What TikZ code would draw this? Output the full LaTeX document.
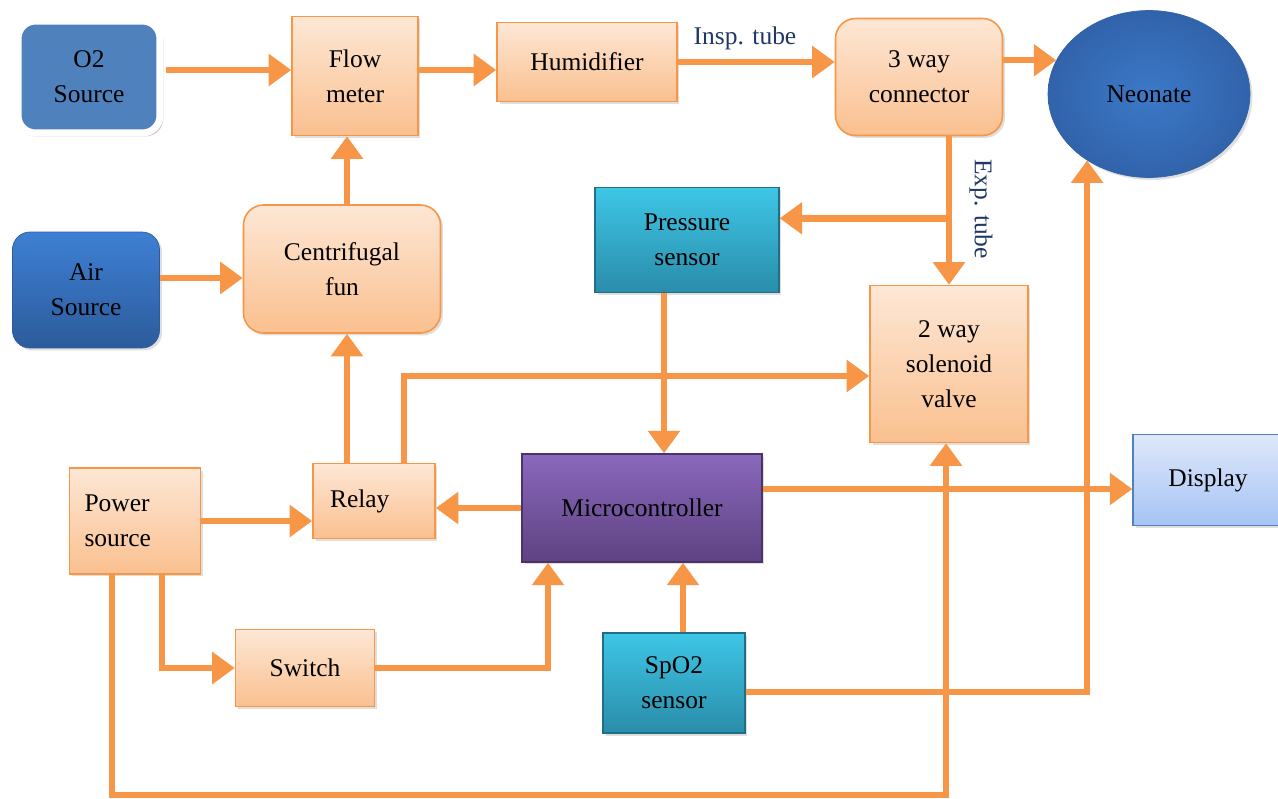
\documentclass[tikz,border=0pt]{standalone}
\usepackage{fontspec}
\setmainfont{Liberation Serif}
\usetikzlibrary{shapes.geometric,arrows.meta,calc,shadows}

\definecolor{wireorange}{HTML}{F79646}
\definecolor{peachtop}{HTML}{FDE7D5}
\definecolor{peachbot}{HTML}{FAC08F}
\definecolor{tealtop}{HTML}{3EC6E6}
\definecolor{tealbot}{HTML}{2A8CAA}
\definecolor{tealedge}{HTML}{216E86}
\definecolor{purpletop}{HTML}{8A68BC}
\definecolor{purplebot}{HTML}{5E4282}
\definecolor{purpleedge}{HTML}{4A3368}
\definecolor{otwoblue}{HTML}{4F81BD}
\definecolor{airtop}{HTML}{3E80D4}
\definecolor{airbot}{HTML}{2C5B9B}
\definecolor{neoin}{HTML}{3C79C8}
\definecolor{neoout}{HTML}{3163AA}
\definecolor{disptop}{HTML}{DEE8FA}
\definecolor{dispbot}{HTML}{A6C3F5}
\definecolor{tubetext}{HTML}{1F3864}

\tikzset{
  txt/.style={font=\fontsize{14.5}{20}\selectfont, align=center},
  shade/.style={drop shadow={opacity=0.25, shadow xshift=0.05cm, shadow yshift=-0.05cm}},
  block/.style={txt, shade, draw=wireorange, line width=0.9pt, top color=peachtop, bottom color=peachbot},
  rblock/.style={block, rounded corners=0.4cm},
  sensor/.style={txt, shade, draw=tealedge, line width=0.8pt, top color=tealtop, bottom color=tealbot},
  source/.style={txt, rounded corners=0.35cm},
  flow/.style={draw=wireorange, line width=0.13cm, -{Triangle[length=0.45cm,width=0.62cm]}},
  wire/.style={draw=wireorange, line width=0.13cm}
}

\begin{document}
\begin{tikzpicture}[x=0.02cm, y=-0.02cm]
  \useasboundingbox (0,0) rectangle (1278,798);

  % Gas sources
  \node[source, fill=otwoblue, draw=white, line width=0.14cm,
        drop shadow={opacity=0.45, shadow xshift=0.03cm, shadow yshift=-0.04cm, shadow scale=1.025},
        minimum width=2.84cm, minimum height=2.24cm] (otwo) at (89,77) {O2\\Source};
  \node[source, shade, top color=airtop, bottom color=airbot, draw=airbot,
        minimum width=2.94cm, minimum height=2.32cm] (air) at (86,290) {Air\\Source};

  % Gas path
  \node[block, minimum width=2.52cm, minimum height=2.38cm] (flow) at (355,76) {Flow\\meter};
  \node[block, minimum width=3.6cm, minimum height=1.58cm] (hum) at (587,62) {Humidifier};
  \node[rblock, minimum width=3.34cm, minimum height=2.34cm] (conn) at (919,77) {3 way\\connector};
  \node[ellipse, txt, shade, inner color=neoin, outer color=neoout, draw=neoout,
        minimum width=4.04cm, minimum height=3.34cm] (neo) at (1149,94) {Neonate};
  \node[rblock, minimum width=3.94cm, minimum height=2.56cm] (fan) at (342,269) {Centrifugal\\fun};
  \node[block, minimum width=3.16cm, minimum height=3.14cm] (valve) at (949,364) {2 way\\solenoid\\valve};

  % Sensors and control
  \node[sensor, minimum width=3.68cm, minimum height=2.1cm] (press) at (687,240) {Pressure\\sensor};
  \node[txt, shade, top color=purpletop, bottom color=purplebot, draw=purpleedge, line width=0.8pt,
        minimum width=4.8cm, minimum height=2.16cm] (micro) at (642,508) {Microcontroller};
  \node[sensor, minimum width=2.84cm, minimum height=2.0cm] (spo) at (674,683) {SpO2\\sensor};
  \node[txt, shade, top color=disptop, bottom color=dispbot, draw=otwoblue, line width=0.8pt,
        minimum width=3.0cm, minimum height=1.82cm] (disp) at (1208,480) {Display};

  % Power side
  \node[block, align=left, text width=2.02cm, inner xsep=0.3cm, minimum height=2.12cm] (power) at (135,521) {Power\\source};
  \node[block, align=left, text width=1.76cm, inner xsep=0.34cm, minimum height=1.5cm] (relay) at (374,501) {Relay};
  \node[block, minimum width=2.78cm, minimum height=1.54cm] (switch) at (305,668) {Switch};

  % Tube labels
  \node[txt, text=tubetext] (insp) at (745,38) {Insp. tube};
  \node[txt, text=tubetext, rotate=-90] (exp) at (981,209) {Exp. tube};

  % Gas connections
  \draw[flow] ($(otwo.east)+(3,-7)$) -- ($(flow.west)+(0,-6)$);
  \draw[flow] ($(flow.east)+(0,-6)$) -- ($(hum.west)+(0,8)$);
  \draw[flow] (hum.east) -- (hum.east -| conn.west);
  \draw[flow] (conn.east |- neo.160) -- (neo.160);
  \draw[flow] ($(air.east)+(0,-12)$) -- ($(fan.west)+(0,9)$);
  \draw[flow] ($(fan.north)+(5,0)$) -- ($(flow.south)+(-8,0)$);
  \coordinate (tee) at ($(conn.south)+(30,82)$);
  \draw[flow] ($(conn.south)+(30,0)$) -- (valve.north);
  \draw[flow] (tee) -- (tee -| press.east);

  % Control connections
  \draw[flow] ($(press.south)+(-23,0)$) -- ($(micro.north)+(22,0)$);
  \draw[flow] (micro.west) -- (micro.west -| relay.east);
  \draw[flow] ($(micro.east)+(0,-19)$) -- ($(disp.west)+(0,9)$);
  \draw[flow] ($(spo.north)+(9,0)$) -- ($(micro.south)+(41,0)$);
  \draw[flow] ($(spo.east)+(0,9)$) -| (neo.227);
  \draw[flow] ($(relay.north)+(-27,0)$) -- ($(fan.south)+(5,0)$);
  \draw[flow] ($(relay.north)+(30,0)$) |- ($(valve.west)+(0,12)$);

  % Power connections
  \coordinate (bus) at (500,795);
  \draw[flow] (power.east) -- (power.east -| relay.west);
  \draw[flow] ($(power.south)+(27,0)$) |- (switch.west);
  \draw[flow] (switch.east) -| ($(micro.south)+(-94,0)$);
  \draw[flow] ($(power.south)+(-23,0)$) |- (bus) -| ($(valve.south)+(-3,0)$);
\end{tikzpicture}
\end{document}
